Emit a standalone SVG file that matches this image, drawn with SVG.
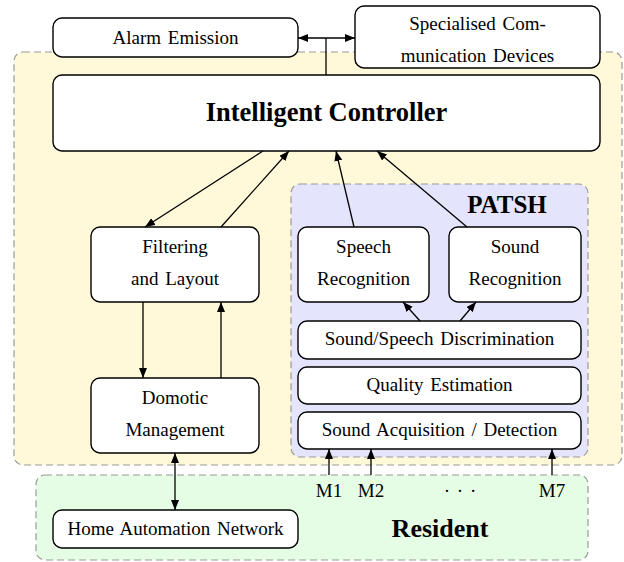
<svg xmlns="http://www.w3.org/2000/svg" width="624" height="562" viewBox="0 0 624 562">
<style>
.region{stroke:#9a9a9a;stroke-width:1.2;stroke-dasharray:7,4}
.box{fill:#fff;stroke:#000;stroke-width:1.4}
.t{font-family:"Liberation Serif","DejaVu Serif",serif;font-size:19px;word-spacing:2px;text-anchor:middle;fill:#000}
.b{font-family:"Liberation Serif","DejaVu Serif",serif;font-weight:bold;text-anchor:middle;fill:#000}
.c{fill:none;stroke:#000;stroke-width:1.3}
</style>
<defs>
<marker id="ah" markerUnits="userSpaceOnUse" markerWidth="11" markerHeight="9" refX="10" refY="4" orient="auto-start-reverse">
<path d="M0,0 L10,4 L0,8 z" fill="#000"/>
</marker>
</defs>
<g id="region-system"><rect class="region" x="14" y="52" width="608" height="413" rx="9" fill="#fff9d9"/></g>
<g id="region-patsh"><rect class="region" x="291" y="184" width="297" height="273" rx="9" fill="#e4e4fc"/>
<text class="b" x="507" y="213" font-size="25">PATSH</text></g>
<g id="region-resident"><rect class="region" x="36" y="475" width="552" height="85" rx="9" fill="#e5fde5"/>
<text class="b" x="440" y="537" font-size="26">Resident</text></g>

<g id="alarm"><rect class="box" x="53" y="18" width="245" height="39" rx="9"/>
<text class="t" x="175.5" y="44">Alarm Emission</text></g>
<g id="specialised"><rect class="box" x="355" y="6" width="245" height="62" rx="9"/>
<text class="t" x="477.5" y="30">Specialised Com-</text>
<text class="t" x="477.5" y="62">munication Devices</text></g>
<g id="controller"><rect class="box" x="53" y="75" width="547" height="76" rx="9"/>
<text class="b" x="326.5" y="121" font-size="26.5">Intelligent Controller</text></g>
<g id="filtering"><rect class="box" x="91" y="227" width="168" height="75" rx="9"/>
<text class="t" x="175" y="253">Filtering</text>
<text class="t" x="175" y="285">and Layout</text></g>
<g id="domotic"><rect class="box" x="91" y="378" width="168" height="75" rx="9"/>
<text class="t" x="175" y="404">Domotic</text>
<text class="t" x="175" y="436">Management</text></g>
<g id="speech"><rect class="box" x="298" y="227" width="131" height="75" rx="9"/>
<text class="t" x="363.5" y="253">Speech</text>
<text class="t" x="363.5" y="285">Recognition</text></g>
<g id="sound"><rect class="box" x="449" y="227" width="132" height="75" rx="9"/>
<text class="t" x="515" y="253">Sound</text>
<text class="t" x="515" y="285">Recognition</text></g>
<g id="discrimination"><rect class="box" x="298" y="321" width="283" height="38" rx="9"/>
<text class="t" x="439.5" y="345">Sound/Speech Discrimination</text></g>
<g id="quality"><rect class="box" x="298" y="367" width="283" height="37" rx="9"/>
<text class="t" x="439.5" y="391">Quality Estimation</text></g>
<g id="acquisition"><rect class="box" x="298" y="412" width="283" height="37" rx="9"/>
<text class="t" x="439.5" y="436">Sound Acquisition / Detection</text></g>
<g id="home"><rect class="box" x="53" y="510" width="245" height="38" rx="9"/>
<text class="t" x="175.5" y="535">Home Automation Network</text></g>
<g id="mics">
<text class="t" x="329" y="497">M1</text>
<text class="t" x="371" y="497">M2</text>
<text class="t" x="460" y="497">· · ·</text>
<text class="t" x="552" y="497">M7</text>
</g>

<g id="connectors">
<line class="c" x1="326" y1="75" x2="326" y2="38"/>
<line class="c" x1="298" y1="38" x2="355" y2="38" marker-start="url(#ah)" marker-end="url(#ah)"/>
<line class="c" x1="263" y1="151" x2="145" y2="227" marker-end="url(#ah)"/>
<line class="c" x1="221" y1="227" x2="289" y2="151" marker-end="url(#ah)"/>
<line class="c" x1="354" y1="227" x2="336" y2="151" marker-end="url(#ah)"/>
<line class="c" x1="467" y1="227" x2="377" y2="151" marker-end="url(#ah)"/>
<line class="c" x1="420" y1="321" x2="403" y2="302" marker-end="url(#ah)"/>
<line class="c" x1="460" y1="321" x2="476" y2="302" marker-end="url(#ah)"/>
<line class="c" x1="143" y1="302" x2="143" y2="378" marker-end="url(#ah)"/>
<line class="c" x1="221" y1="378" x2="221" y2="302" marker-end="url(#ah)"/>
<line class="c" x1="175" y1="453" x2="175" y2="510" stroke-width="2.2" marker-start="url(#ah)" marker-end="url(#ah)"/>
<line class="c" x1="329" y1="475" x2="329" y2="449" marker-end="url(#ah)"/>
<line class="c" x1="371" y1="475" x2="371" y2="449" marker-end="url(#ah)"/>
<line class="c" x1="552" y1="475" x2="552" y2="449" marker-end="url(#ah)"/>
</g>
</svg>
